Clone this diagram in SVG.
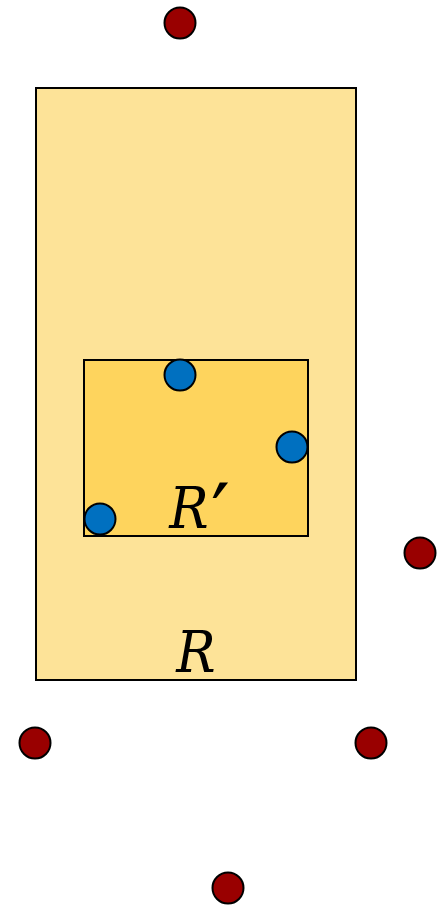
<svg xmlns="http://www.w3.org/2000/svg" width="443" height="907" viewBox="0 0 443 907">
<style>
.rect{stroke:#000;stroke-width:2}
.red{fill:#990000;stroke:#000;stroke-width:2}
.blue{fill:#0070c0;stroke:#000;stroke-width:2}
.lbl{font-family:"DejaVu Serif Condensed","DejaVu Serif",serif;font-style:italic;font-size:58px;fill:#000;text-anchor:middle}
</style>
<g id="R"><rect class="rect" x="36" y="88" width="320" height="592" fill="#fde398"/><text class="lbl" x="196" y="672">R</text></g>
<g id="Rp"><rect class="rect" x="84" y="360" width="224" height="176" fill="#fed45d"/><text class="lbl" x="189" y="528">R</text><text font-family="'DejaVu Sans',sans-serif" font-size="84" x="211" y="544">′</text></g>
<g id="b1"><circle class="blue" cx="180" cy="375" r="15.5"/></g>
<g id="b2"><circle class="blue" cx="292" cy="447" r="15.5"/></g>
<g id="b3"><circle class="blue" cx="100" cy="519" r="15.5"/></g>
<g id="r1"><circle class="red" cx="180" cy="23" r="15.5"/></g>
<g id="r2"><circle class="red" cx="420" cy="553" r="15.5"/></g>
<g id="r3"><circle class="red" cx="35" cy="743" r="15.5"/></g>
<g id="r4"><circle class="red" cx="371" cy="743" r="15.5"/></g>
<g id="r5"><circle class="red" cx="228" cy="888" r="15.5"/></g>
<g id="connectors"></g>
</svg>
